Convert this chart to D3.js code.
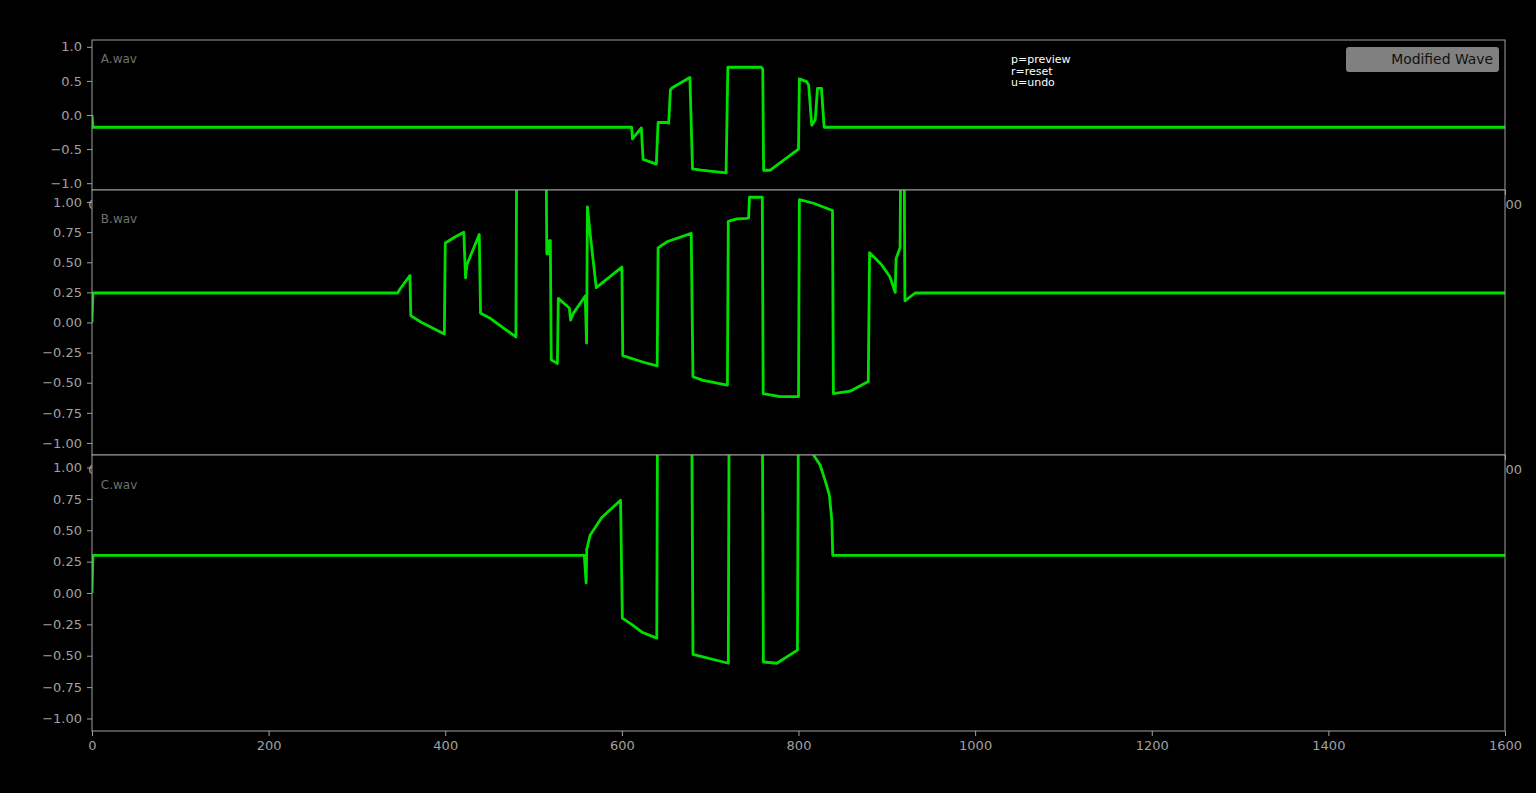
<!DOCTYPE html>
<html>
<head>
<meta charset="utf-8">
<script src="https://cdn.jsdelivr.net/npm/d3@7"></script>
<style>
  body { margin: 0; background: #000; }
  svg { display: block; }
</style>
</head>
<body>
<svg id="chart" width="1536" height="793"></svg>
<script>
// ---- data ----
var xTicks = [0, 200, 400, 600, 800, 1000, 1200, 1400, 1600];
var yTicksA = [-1, -0.5, 0, 0.5, 1];
var yTicksBC = [-1, -0.75, -0.5, -0.25, 0, 0.25, 0.5, 0.75, 1];

var xA = [0, 1, 611, 612, 622, 624, 639, 641, 651, 653, 655, 657, 677, 680, 690, 718, 720, 758, 759.5, 760.5, 768, 800, 801, 809, 811.5, 815, 819, 821.5, 826, 829, 1600];
var yA = [0, -0.18, -0.18, -0.35, -0.19, -0.65, -0.72, -0.11, -0.11, -0.12, 0.37, 0.40, 0.55, -0.79, -0.81, -0.85, 0.70, 0.70, 0.67, -0.81, -0.81, -0.50, 0.53, 0.49, 0.44, -0.15, -0.07, 0.39, 0.39, -0.18, -0.18];

var xB = [0, 1, 346, 349, 360, 361, 375, 399, 400, 411, 421, 423, 424.5, 438.5, 440, 451, 480, 481, 514, 515, 517.5, 518, 519, 520, 527, 528, 540.5, 542, 545, 558.5, 560, 561, 564, 571, 600, 601, 624.5, 640, 641, 651, 678.5, 680.5, 692, 719.5, 720.5, 730, 741.5, 743.5, 744.5, 759, 760, 779, 800, 801, 817, 838.5, 839.5, 858.5, 879, 880.5, 894, 903.5, 909.5, 910.5, 915, 916, 919.5, 920.5, 932, 1600];
var yB = [0, 0.245, 0.245, 0.28, 0.39, 0.056, -0.007, -0.095, 0.66, 0.71, 0.75, 0.37, 0.48, 0.73, 0.076, 0.035, -0.12, 1.6, 1.6, 0.57, 0.57, 0.68, 0.68, -0.31, -0.34, 0.2, 0.12, 0.02, 0.076, 0.22, -0.17, 0.96, 0.74, 0.29, 0.46, -0.275, -0.33, -0.36, 0.62, 0.67, 0.74, -0.45, -0.48, -0.52, 0.84, 0.86, 0.865, 0.87, 1.04, 1.04, -0.59, -0.615, -0.615, 1.02, 0.99, 0.93, -0.59, -0.57, -0.49, 0.58, 0.48, 0.38, 0.25, 0.53, 0.62, 1.6, 1.6, 0.18, 0.245, 0.245];

var xC = [0, 1, 557.5, 559.5, 560.2, 561, 564, 571.5, 577, 598.5, 600.5, 611, 623.5, 639.5, 640.5, 679, 680.5, 715, 720.5, 721.5, 759, 760.2, 775.5, 798.8, 800, 812, 817, 824.5, 830, 835, 837.7, 838.8, 1600];
var yC = [0, 0.30, 0.30, 0.08, 0.35, 0.37, 0.46, 0.54, 0.60, 0.74, -0.20, -0.25, -0.315, -0.36, 1.6, 1.6, -0.49, -0.55, -0.56, 1.6, 1.6, -0.55, -0.56, -0.455, 1.6, 1.4, 1.1, 1.02, 0.90, 0.78, 0.58, 0.30, 0.30];

var helpLines = ["p=preview", "r=reset", "u=undo"];
var legendLabel = "Modified Wave";

// ---- layout ----
var svg = d3.select("#chart");
var left = 92, right = 1505;
var lineColor = "#00e000";
var spineColor = "#a0a0a0";
var tickTextColor = "#a0a0a0";
var font = "'DejaVu Sans', sans-serif";

svg.append("rect").attr("width", 1536).attr("height", 793).attr("fill", "#000");

var x = d3.scaleLinear().domain([0, 1600]).range([left, right]);

var panels = [
    {name: "A.wav", top: 40, bottom: 190, xs: xA, ys: yA, ticks: yTicksA, fmt: ".1f"},
    {name: "B.wav", top: 190, bottom: 455, xs: xB, ys: yB, ticks: yTicksBC, fmt: ".2f"},
    {name: "C.wav", top: 455, bottom: 731, xs: xC, ys: yC, ticks: yTicksBC, fmt: ".2f"}
];

panels.forEach(function(p, i){
    var y = d3.scaleLinear().domain([-1.1, 1.1]).range([p.bottom, p.top]);
    var g = svg.append("g");

    //axes background covers the previous panel's x tick labels
    g.append("rect")
        .attr("x", left).attr("y", p.top)
        .attr("width", right - left).attr("height", p.bottom - p.top)
        .attr("fill", "#000");

    var clipId = "clip" + i;
    g.append("clipPath").attr("id", clipId)
        .append("rect")
        .attr("x", left).attr("y", p.top)
        .attr("width", right - left).attr("height", p.bottom - p.top);

    var line = d3.line()
        .x(function(d){ return x(d[0]); })
        .y(function(d){ return y(d[1]); });

    g.append("path")
        .datum(d3.zip(p.xs, p.ys))
        .attr("clip-path", "url(#" + clipId + ")")
        .attr("fill", "none")
        .attr("stroke", lineColor)
        .attr("stroke-width", 2.8)
        .attr("stroke-linejoin", "round")
        .attr("d", line);

    //file label
    g.append("text")
        .attr("x", x(10)).attr("y", y(0.9) + 9)
        .attr("fill", "#707070")
        .style("font-family", font).style("font-size", "12px")
        .text(p.name);

    //spines
    g.append("rect")
        .attr("x", left).attr("y", p.top)
        .attr("width", right - left).attr("height", p.bottom - p.top)
        .attr("fill", "none").attr("stroke", spineColor).attr("stroke-width", 1);

    var yAxis = g.append("g")
        .attr("transform", "translate(" + left + ",0)")
        .call(d3.axisLeft(y).tickValues(p.ticks).tickFormat(d3.format(p.fmt)).tickSize(5).tickPadding(5));
    var xAxis = g.append("g")
        .attr("transform", "translate(0," + p.bottom + ")")
        .call(d3.axisBottom(x).tickValues(xTicks).tickFormat(d3.format("d")).tickSize(5).tickPadding(5));

    [yAxis, xAxis].forEach(function(a){
        a.attr("font-size", null).attr("font-family", null);
        a.select(".domain").remove();
        a.selectAll("line").attr("stroke", spineColor);
        a.selectAll("text")
            .attr("fill", tickTextColor)
            .style("font-family", font)
            .style("font-size", "13px");
    });
});

//legend in the first panel
svg.append("rect")
    .attr("x", 1346).attr("y", 47).attr("width", 153).attr("height", 25)
    .attr("rx", 3).attr("fill", "#808080");
svg.append("text")
    .attr("x", 1493).attr("y", 63.5)
    .attr("text-anchor", "end")
    .attr("fill", "#111")
    .style("font-family", font).style("font-size", "13.9px")
    .text(legendLabel);

//key help
svg.selectAll("text.help").data(helpLines)
    .enter().append("text")
    .classed("help", true)
    .attr("x", 1011)
    .attr("y", function(d, i){ return 63 + i * 11.5; })
    .attr("fill", "#fff")
    .style("font-family", font).style("font-size", "11px")
    .text(function(d){ return d; });
</script>
</body>
</html>
